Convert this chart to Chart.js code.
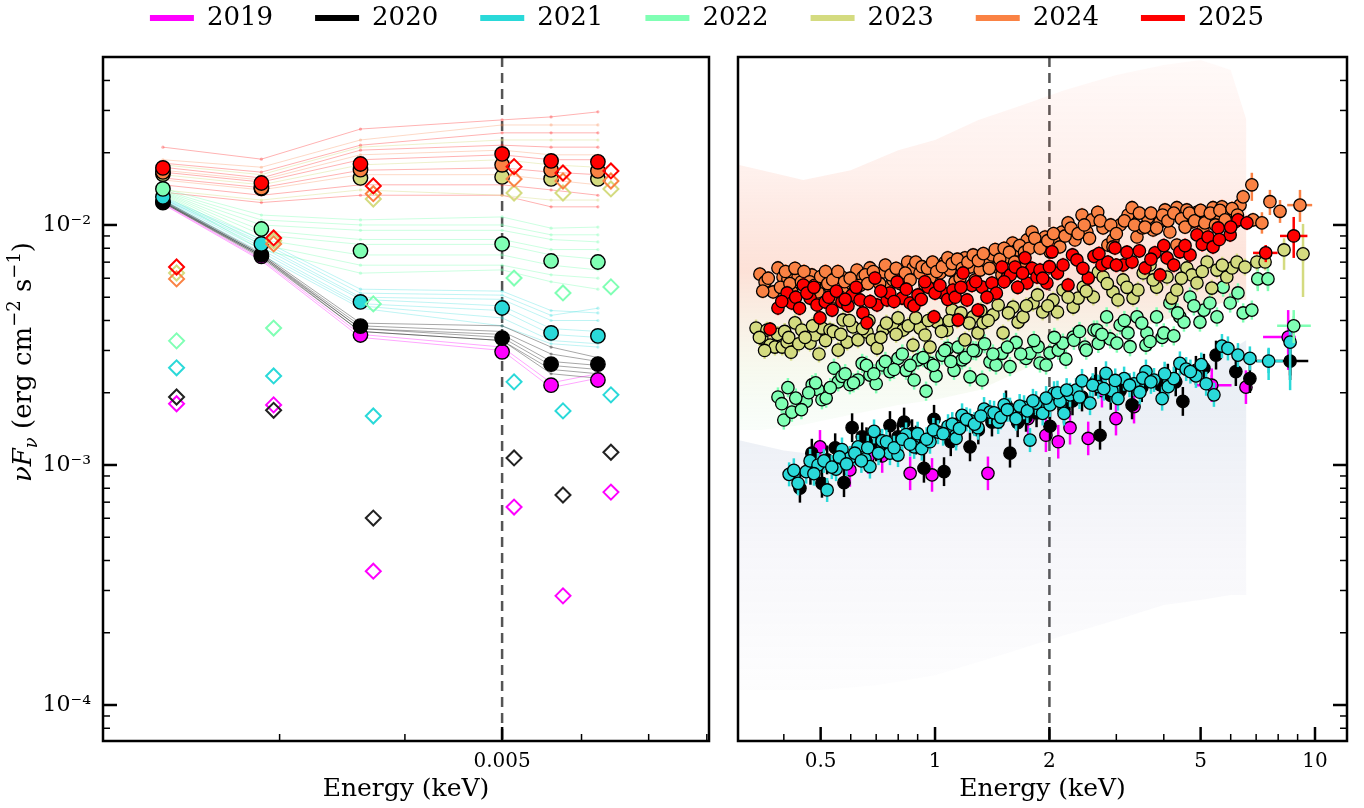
<!DOCTYPE html>
<html><head><meta charset="utf-8">
<script src="https://cdn.jsdelivr.net/npm/chart.js@4.4.1/dist/chart.umd.min.js"></script>
<style>
html,body{margin:0;padding:0;background:#fff;width:1364px;height:808px;overflow:hidden;}
canvas{position:absolute;}
#leftCanvas{left:0;top:0;z-index:1;}
#rightCanvas{left:722px;top:0;z-index:1;}
#legendCanvas{left:48px;top:-37px;z-index:2;}
</style></head><body>
<canvas id="leftCanvas" width="722" height="808"></canvas>
<canvas id="rightCanvas" width="642" height="808"></canvas>
<canvas id="legendCanvas" width="1318" height="260"></canvas>
<script>
// ---------------- DATA ----------------
const YEARS = ['2019','2020','2021','2022','2023','2024','2025'];
const COLORS = ['#ff00ff','#000000','#2ad9d9','#80ffb4','#d4db80','#fa8244','#ff0000'];
const FAINT_COLORS = ['rgba(255,0,255,0.35)','rgba(0,0,0,0.35)','rgba(42,217,217,0.3)','rgba(128,255,180,0.4)','rgba(212,219,128,0.4)','rgba(250,130,68,0.3)','rgba(255,0,0,0.3)'];

// left panel: UVOT bands (keV)
const BAND_E = [0.002295, 0.002877, 0.003612, 0.00500, 0.005595, 0.00623];
const DIAM_E = [0.002368, 0.002959, 0.00372, 0.005139, 0.00575, 0.006419];

const CIRC_2019 = [0.0124, 0.0074, 0.00348, 0.00296, 0.00215, 0.00226];
const CIRC_2020 = [0.01247, 0.0075, 0.00379, 0.00338, 0.00263, 0.00263];
const CIRC_2021 = [0.01309, 0.00834, 0.00478, 0.00451, 0.00355, 0.00345];
const CIRC_2022 = [0.01413, 0.00962, 0.0078, 0.00834, 0.00708, 0.00701];
const CIRC_2023 = [0.0163, 0.0142, 0.0157, 0.01585, 0.01555, 0.01555];
const CIRC_2024 = [0.01663, 0.0143, 0.0170, 0.0178, 0.01695, 0.0168];
const CIRC_2025 = [0.01728, 0.01496, 0.01795, 0.01977, 0.01848, 0.01832];

const DIAM_2019 = [0.0018, 0.00178, 0.000361, 0.000668, 0.000285, 0.000771];
const DIAM_2020 = [0.00192, 0.00169, 0.000601, 0.00107, 0.00075, 0.00113];
const DIAM_2021 = [0.00254, 0.00235, 0.0016, 0.00222, 0.00168, 0.00196];
const DIAM_2022 = [0.00329, 0.00372, 0.00469, 0.00601, 0.00521, 0.00552];
const DIAM_2023 = [0.00631, 0.0086, 0.01283, 0.01359, 0.01359, 0.01413];
const DIAM_2024 = [0.00596, 0.00834, 0.0135, 0.01555, 0.01525, 0.01525];
const DIAM_2025 = [0.00668, 0.00883, 0.01454, 0.0175, 0.01647, 0.01679];

// individual observations (faint lines)
const FAINT_2019 = [
  [0.0123,0.0072,0.0035,0.0031,0.0022,0.0024],
  [0.0122,0.0071,0.0034,0.0030,0.0021,0.0023]];
const FAINT_2020 = [
  [0.0127,0.0076,0.0039,0.0038,0.0031,0.0028],
  [0.0126,0.0075,0.0038,0.0036,0.0029,0.0027],
  [0.0125,0.0075,0.0037,0.0035,0.0027,0.0026],
  [0.0125,0.0074,0.0037,0.0034,0.0026,0.0025],
  [0.0124,0.0074,0.0036,0.0033,0.0025,0.0024],
  [0.0124,0.0073,0.0036,0.0033,0.0024,0.0023]];
const FAINT_2021 = [
  [0.0131,0.0087,0.0054,0.0053,0.0044,0.0043],
  [0.0130,0.0085,0.0052,0.0051,0.0042,0.0045],
  [0.0129,0.0083,0.0050,0.0049,0.0040,0.0040],
  [0.0129,0.0081,0.0049,0.0046,0.0037,0.0036],
  [0.0128,0.0079,0.0047,0.0044,0.0035,0.0034],
  [0.0127,0.0077,0.0046,0.0041,0.0033,0.0032],
  [0.0126,0.0075,0.0045,0.0038,0.0032,0.0031]];
const FAINT_2022 = [
  [0.0142,0.0110,0.0105,0.0108,0.0097,0.0098],
  [0.0140,0.0105,0.0100,0.0100,0.0091,0.0091],
  [0.0139,0.0100,0.0095,0.0095,0.0087,0.0085],
  [0.0138,0.0095,0.0087,0.0087,0.0079,0.0079],
  [0.0137,0.0091,0.0083,0.0083,0.0075,0.0072],
  [0.0136,0.0087,0.0075,0.0075,0.0068,0.0065],
  [0.0135,0.0083,0.0068,0.0068,0.0062,0.0060],
  [0.0134,0.0079,0.0063,0.0065,0.0058,0.0054]];
const FAINT_2023 = [
  [0.0178,0.0162,0.0211,0.0226,0.0226,0.0226],
  [0.0162,0.0147,0.0178,0.0187,0.0178,0.0174],
  [0.0140,0.0127,0.0140,0.0133,0.0127,0.0127]];
const FAINT_2024 = [
  [0.0187,0.0174,0.0226,0.0261,0.0261,0.0261],
  [0.0169,0.0154,0.0196,0.0205,0.0196,0.0196],
  [0.0154,0.0140,0.0162,0.0162,0.0154,0.0147]];
const FAINT_2025 = [
  [0.0211,0.0188,0.0251,0.0274,0.0282,0.0296],
  [0.0181,0.0166,0.0215,0.0242,0.0242,0.0242],
  [0.0174,0.0157,0.0205,0.0215,0.0211,0.0211],
  [0.0166,0.0151,0.0187,0.0196,0.0187,0.0187],
  [0.0157,0.0143,0.0169,0.0173,0.0166,0.0162],
  [0.0147,0.0133,0.0147,0.0147,0.0140,0.0133],
  [0.0137,0.0124,0.0133,0.0133,0.0119,0.0119]];

// right panel: X-ray spectra [E keV, nuFnu]
const XR_2019 = [[0.498,0.00119],[0.597,0.000954],[0.667,0.00108],[0.726,0.00109],[0.860,0.000923],[0.982,0.000909],[1.378,0.000923],[1.757,0.00156],[1.958,0.00133],[2.11,0.00125],[2.266,0.00143],[2.53,0.00129],[2.75,0.00204],[2.994,0.00156],[3.34,0.00175],[5.35,0.00215],[6.58,0.00211],[8.5,0.00341]];
const XR_2020 = [[0.441,0.000800],[0.474,0.00112],[0.504,0.000839],[0.546,0.00118],[0.576,0.000844],[0.605,0.00143],[0.643,0.00131],[0.700,0.00119],[0.761,0.00146],[0.799,0.00131],[0.829,0.00151],[0.891,0.00127],[0.935,0.000969],[0.994,0.00155],[1.056,0.000938],[1.136,0.00137],[1.236,0.00119],[1.412,0.00151],[1.537,0.00178],[1.575,0.00112],[1.736,0.00158],[2.007,0.00145],[2.185,0.00171],[2.437,0.00192],[2.65,0.00223],[2.718,0.00133],[3.07,0.00204],[3.30,0.00178],[3.91,0.00216],[4.30,0.00222],[4.49,0.00184],[4.86,0.00248],[5.10,0.00253],[5.49,0.00287],[6.19,0.00245],[6.74,0.00229],[8.6,0.00271],[0.47,0.00095],[0.52,0.00105],[0.66,0.00125],[0.72,0.00118],[0.87,0.00135],[1.1,0.00125],[1.3,0.00140],[1.65,0.00150],[1.85,0.00165],[2.3,0.00185],[2.9,0.00195],[3.5,0.0021],[4.1,0.0023]];
const XR_2021 = [[0.413,0.000914],[0.436,0.000839],[0.458,0.000938],[0.469,0.00104],[0.492,0.00100],[0.520,0.000787],[0.549,0.000961],[0.569,0.00116],[0.597,0.00107],[0.627,0.00119],[0.654,0.00106],[0.674,0.000985],[0.691,0.00138],[0.726,0.00126],[0.761,0.00112],[0.799,0.00110],[0.839,0.00134],[0.881,0.00119],[0.923,0.00117],[0.970,0.00125],[1.018,0.00137],[1.082,0.00145],[1.136,0.00129],[1.178,0.00161],[1.236,0.00153],[1.297,0.00143],[1.346,0.00171],[1.395,0.00166],[1.466,0.00151],[1.52,0.00178],[1.575,0.00170],[1.634,0.00156],[1.715,0.00174],[1.778,0.00127],[1.845,0.00181],[1.92,0.00164],[2.007,0.00178],[2.057,0.00199],[2.133,0.00184],[2.185,0.00164],[2.266,0.00196],[2.35,0.00205],[2.437,0.00224],[2.558,0.00181],[2.69,0.00212],[2.818,0.00241],[2.92,0.00204],[3.03,0.00189],[3.145,0.00229],[3.34,0.00218],[3.46,0.00201],[3.59,0.00245],[3.77,0.00226],[3.96,0.00189],[4.11,0.00212],[4.25,0.00229],[4.41,0.00265],[4.58,0.00251],[4.86,0.00235],[5.17,0.00218],[5.42,0.00196],[5.69,0.00313],[5.90,0.00306],[6.27,0.00287],[6.74,0.00278],[7.55,0.00271],[8.6,0.00325],
  [0.425,0.00095],[0.48,0.00092],[0.51,0.00104],[0.535,0.00098],[0.56,0.00108],[0.585,0.00101],[0.615,0.00112],[0.64,0.00104],[0.665,0.00118],[0.71,0.00112],[0.745,0.00125],[0.78,0.00118],[0.82,0.00128],[0.86,0.00122],[0.90,0.00135],[0.95,0.00128],[0.99,0.00140],[1.05,0.00135],[1.11,0.00148],[1.16,0.00142],[1.21,0.00155],[1.27,0.00148],[1.32,0.00160],[1.43,0.00165],[1.49,0.00158],[1.55,0.00170],[1.67,0.00176],[1.75,0.00168],[1.81,0.00185],[1.96,0.00190],[2.1,0.00200],[2.22,0.00205],[2.4,0.00192],[2.6,0.00215],[2.78,0.00208],[2.98,0.00225],[3.25,0.00215],[3.52,0.00230],[3.7,0.00222],[4.02,0.00240],[4.7,0.00245],[5.02,0.00262]];
const XR_2022 = [[0.386,0.00192],[0.400,0.00154],[0.420,0.00166],[0.458,0.00184],[0.475,0.00216],[0.492,0.00206],[0.504,0.00187],[0.517,0.00190],[0.542,0.00253],[0.556,0.00222],[0.569,0.00234],[0.597,0.00216],[0.627,0.00226],[0.643,0.00265],[0.674,0.00237],[0.700,0.00218],[0.726,0.00261],[0.761,0.00245],[0.799,0.00278],[0.839,0.00248],[0.881,0.00226],[0.902,0.00274],[0.947,0.00203],[0.970,0.00265],[1.006,0.00235],[1.043,0.00287],[1.08,0.00306],[1.122,0.00248],[1.178,0.00274],[1.236,0.00233],[1.282,0.00299],[1.330,0.00226],[1.395,0.00269],[1.447,0.00261],[1.50,0.00292],[1.575,0.00257],[1.634,0.00324],[1.736,0.00278],[1.778,0.00292],[1.867,0.00311],[1.889,0.00266],[1.96,0.00261],[2.007,0.00293],[2.11,0.00301],[2.17,0.00322],[2.21,0.00276],[2.31,0.00341],[2.32,0.00331],[2.48,0.00310],[2.50,0.00301],[2.62,0.00365],[2.67,0.00365],[2.69,0.00321],[2.83,0.00414],[2.89,0.00335],[3.01,0.00322],[3.07,0.00383],[3.22,0.00355],[3.26,0.00311],[3.40,0.00414],[3.59,0.00316],[3.61,0.00355],[3.68,0.00327],[3.83,0.00414],[3.96,0.00340],[4.0,0.00355],[4.15,0.00473],[4.25,0.00345],[4.41,0.00414],[4.52,0.00394],[4.69,0.00501],[4.98,0.00394],[5.10,0.00442],[5.29,0.00473],[5.52,0.00414],[5.73,0.00551],[5.98,0.00473],[6.27,0.00521],[6.47,0.00430],[6.82,0.00442],[7.07,0.00596],[7.52,0.00596],[8.79,0.00380],
  [0.395,0.0018],[0.41,0.0021],[0.43,0.0019],[0.445,0.0017],[0.465,0.0020],[0.485,0.0022],[0.53,0.0021],[0.58,0.0024],[0.61,0.0022],[0.66,0.0026],[0.69,0.0024],[0.74,0.0027],[0.78,0.0025],[0.82,0.0029],[0.86,0.0026],[0.93,0.0028],[0.99,0.0026],[1.06,0.0030],[1.1,0.0027],[1.15,0.0031],[1.2,0.0028],[1.26,0.0030],[1.35,0.0032],[1.42,0.0029],[1.55,0.0031],[1.68,0.0029],[1.82,0.0033],[2.06,0.0034],[2.4,0.0036],[2.75,0.0035],[3.15,0.0040],[3.5,0.0039],[4.35,0.0043],[4.8,0.0046]];
const XR_2023 = [[0.338,0.00372],[0.350,0.00338],[0.361,0.00365],[0.368,0.00316],[0.379,0.00310],[0.396,0.00310],[0.408,0.00325],[0.418,0.00295],[0.428,0.00391],[0.446,0.00365],[0.469,0.00322],[0.483,0.00348],[0.495,0.00290],[0.504,0.00372],[0.529,0.00365],[0.556,0.00301],[0.573,0.00402],[0.587,0.00325],[0.608,0.00376],[0.627,0.00332],[0.662,0.00358],[0.684,0.00332],[0.704,0.00307],[0.730,0.00365],[0.775,0.00376],[0.799,0.00410],[0.824,0.00365],[0.875,0.00316],[0.913,0.00372],[0.941,0.00348],[0.970,0.00310],[1.012,0.00394],[1.075,0.00365],[1.109,0.00442],[1.143,0.00402],[1.199,0.00332],[1.259,0.00414],[1.297,0.00355],[1.338,0.00391],[1.421,0.00422],[1.466,0.00464],[1.510,0.00355],[1.605,0.00455],[1.654,0.00394],[1.704,0.00414],[1.811,0.00473],[1.861,0.00511],[1.92,0.00434],[2.045,0.00487],[2.10,0.00434],[2.172,0.00536],[2.31,0.00455],[2.38,0.00496],[2.455,0.00551],[2.61,0.00501],[2.69,0.00637],[2.77,0.00607],[2.94,0.00526],[3.03,0.00487],[3.125,0.00590],[3.32,0.00496],[3.42,0.00536],[3.53,0.00631],[3.68,0.00681],[3.83,0.00551],[4.08,0.00607],[4.20,0.00496],[4.33,0.00536],[4.60,0.00662],[4.74,0.00619],[4.89,0.00573],[5.20,0.00701],[5.35,0.00546],[5.52,0.00649],[5.86,0.00607],[6.05,0.00662],[6.23,0.00701],[6.54,0.00668],[7.03,0.00701],[7.39,0.00701],[8.29,0.00787],[9.30,0.00758],
  [0.345,0.0034],[0.356,0.0030],[0.385,0.0035],[0.402,0.0036],[0.412,0.0034],[0.438,0.0032],[0.455,0.0034],[0.476,0.0038],[0.515,0.0033],[0.54,0.0036],[0.565,0.0035],[0.595,0.0040],[0.645,0.0037],[0.67,0.0040],[0.72,0.0034],[0.745,0.0039],[0.79,0.0035],[0.85,0.0038],[0.89,0.0041],[0.96,0.0040],[1.04,0.0036],[1.09,0.0040],[1.17,0.0043],[1.23,0.0039],[1.32,0.0044],[1.38,0.0040],[1.56,0.0043],[1.74,0.0046],[1.98,0.0046],[2.24,0.0050],[2.5,0.0053],[2.84,0.0057],[3.2,0.0055],[3.75,0.0059],[4.45,0.0060],[5.05,0.0064],[5.7,0.0068]];
const XR_2024 = [[0.346,0.00624],[0.357,0.00579],[0.375,0.00526],[0.386,0.00662],[0.398,0.00607],[0.410,0.00596],[0.420,0.00526],[0.436,0.00607],[0.460,0.00551],[0.474,0.00619],[0.492,0.00526],[0.507,0.00579],[0.529,0.00551],[0.546,0.00501],[0.569,0.00607],[0.587,0.00551],[0.608,0.00562],[0.623,0.00649],[0.646,0.00607],[0.674,0.00662],[0.704,0.00601],[0.730,0.00637],[0.752,0.00551],[0.775,0.00590],[0.824,0.00607],[0.847,0.00701],[0.875,0.00662],[0.913,0.00631],[0.941,0.00562],[0.970,0.00601],[1.031,0.00631],[1.063,0.00701],[1.095,0.00649],[1.129,0.00579],[1.164,0.00601],[1.199,0.00729],[1.236,0.00668],[1.274,0.00590],[1.314,0.00649],[1.37,0.00701],[1.413,0.00750],[1.456,0.00668],[1.50,0.00619],[1.546,0.00736],[1.60,0.00841],[1.644,0.00787],[1.694,0.00701],[1.746,0.00866],[1.80,0.00935],[1.855,0.00841],[1.948,0.00891],[2.007,0.00773],[2.095,0.00850],[2.16,0.00935],[2.239,0.0102],[2.335,0.00866],[2.437,0.0110],[2.51,0.00935],[2.589,0.0105],[2.68,0.0113],[2.768,0.00972],[2.85,0.00825],[2.94,0.00866],[2.94,0.00810],[3.07,0.0100],[3.22,0.0110],[3.30,0.0118],[3.40,0.00891],[3.51,0.00972],[3.63,0.0107],[3.75,0.00953],[3.91,0.0103],[4.03,0.01155],[4.15,0.00935],[4.33,0.0118],[4.33,0.00825],[4.60,0.01155],[4.74,0.0103],[4.89,0.0113],[5.07,0.00953],[5.20,0.0108],[5.39,0.0118],[5.56,0.0107],[5.69,0.0119],[5.98,0.0112],[6.16,0.0103],[6.35,0.0121],[6.47,0.0131],[6.82,0.0147],[6.87,0.0105],[7.25,0.0102],[7.61,0.0125],[8.09,0.0114],[9.13,0.0121],
  [0.352,0.0053],[0.364,0.0060],[0.392,0.0055],[0.404,0.0064],[0.415,0.0057],[0.428,0.0066],[0.445,0.0058],[0.452,0.0064],[0.468,0.0058],[0.482,0.0056],[0.500,0.0061],[0.515,0.0064],[0.522,0.0057],[0.538,0.0059],[0.555,0.0064],[0.578,0.0058],[0.598,0.0060],[0.615,0.0053],[0.635,0.0056],[0.655,0.0062],[0.665,0.0057],[0.688,0.0064],[0.715,0.0057],[0.74,0.0068],[0.765,0.0062],[0.79,0.0066],[0.81,0.0057],[0.835,0.0063],[0.86,0.0059],[0.89,0.0070],[0.925,0.0067],[0.955,0.0066],[0.985,0.0070],[1.01,0.0064],[1.045,0.0067],[1.08,0.0073],[1.11,0.0069],[1.145,0.0072],[1.18,0.0066],[1.22,0.0070],[1.26,0.0075],[1.30,0.0071],[1.34,0.0076],[1.39,0.0066],[1.44,0.0079],[1.48,0.0072],[1.52,0.0080],[1.57,0.0077],[1.62,0.0070],[1.67,0.0082],[1.72,0.0077],[1.77,0.0080],[1.83,0.0088],[1.89,0.0080],[1.98,0.0086],[2.05,0.0092],[2.13,0.0081],[2.2,0.0090],[2.28,0.0097],[2.38,0.0092],[2.47,0.0100],[2.55,0.0088],[2.72,0.0104],[2.9,0.0100],[3.0,0.0092],[3.15,0.0104],[3.35,0.0100],[3.45,0.0112],[3.57,0.0098],[3.7,0.0112],[3.83,0.0097],[3.97,0.0110],[4.1,0.0104],[4.25,0.0112],[4.45,0.0106],[4.55,0.0098],[4.67,0.0112],[4.82,0.0104],[5.0,0.0115],[5.13,0.0102],[5.3,0.0112],[5.47,0.0100],[5.62,0.0115],[5.8,0.0105],[6.05,0.0117],[6.25,0.0110]];
const XR_2025 = [[0.368,0.00368],[0.386,0.00451],[0.408,0.00521],[0.420,0.00473],[0.43,0.0050],[0.450,0.00562],[0.469,0.00496],[0.489,0.00464],[0.498,0.00410],[0.514,0.00478],[0.536,0.00442],[0.569,0.00478],[0.59,0.0046],[0.605,0.00511],[0.635,0.00487],[0.646,0.00430],[0.662,0.00391],[0.695,0.00601],[0.704,0.00464],[0.748,0.00487],[0.76,0.0052],[0.795,0.00579],[0.819,0.00496],[0.860,0.00473],[0.88,0.0046],[0.902,0.00511],[0.958,0.00551],[0.994,0.00414],[1.050,0.00521],[1.08,0.0049],[1.115,0.00536],[1.150,0.00402],[1.185,0.00631],[1.214,0.00487],[1.25,0.0056],[1.297,0.00442],[1.330,0.00551],[1.412,0.00573],[1.45,0.0052],[1.50,0.00668],[1.546,0.00601],[1.58,0.0062],[1.624,0.00668],[1.725,0.00729],[1.746,0.00573],[1.80,0.0066],[1.855,0.00607],[1.889,0.00649],[1.97,0.00573],[2.032,0.00773],[2.10,0.0063],[2.172,0.00681],[2.239,0.00562],[2.30,0.0075],[2.363,0.00715],[2.53,0.00601],[2.62,0.0074],[2.75,0.00681],[2.85,0.0070],[2.976,0.00802],[3.125,0.00681],[3.30,0.00701],[3.45,0.0078],[3.57,0.00662],[3.79,0.00765],[3.91,0.00619],[4.08,0.00729],[4.25,0.0068],[4.41,0.00773],[4.69,0.00750],[4.89,0.00909],[5.05,0.0083],[5.23,0.00891],[5.39,0.00810],[5.56,0.00972],[5.98,0.00909],[6.27,0.0105],[6.62,0.0102],[7.42,0.00765],[8.79,0.00900],
  [0.395,0.0048],[0.44,0.0045],[0.46,0.0052],[0.48,0.0055],[0.525,0.0050],[0.55,0.0053],[0.58,0.0049],[0.62,0.0055],[0.675,0.0048],[0.72,0.0053],[0.78,0.0048],[0.84,0.0054],[0.92,0.0049],[0.94,0.0058],[1.0,0.0052],[1.03,0.0056],[1.13,0.0050],[1.17,0.0055],[1.28,0.0058],[1.37,0.0050],[1.52,0.0058],[1.65,0.0055],[1.70,0.0063],[1.92,0.0060],[2.0,0.0067],[2.45,0.0066],[2.7,0.0076],[3.0,0.0068],[3.2,0.0077],[3.7,0.0072],[4.0,0.0082],[4.55,0.0082],[5.6,0.0087],[6.0,0.0098]];

// typical errors (dex) and the large, individually visible error bars [E, yLo, yHi, eLo, eHi]
const ERR_DEX = [0.07, 0.06, 0.05, 0.04, 0.035, 0.03, 0.03];
const ERRBIG_2019 = [[8.5,0.00249,0.00442,7.3,8.9],[5.35,0.00191,0.00237,4.86,6.03]];
const ERRBIG_2020 = [[8.6,0.00226,0.00332,6.99,9.60]];
const ERRBIG_2021 = [[8.6,0.00205,0.00376,null,null],[7.55,0.00226,0.00308,7.03,8.23]];
const ERRBIG_2022 = [[8.79,0.00322,0.00442,7.95,9.75],[7.52,0.0053,0.0067,null,null],[7.07,0.0053,0.0067,null,null]];
const ERRBIG_2023 = [[9.30,0.00501,0.0101,null,null],[8.29,0.0065,0.0088,null,null]];
const ERRBIG_2024 = [[6.82,0.0126,0.0165,null,null],[7.61,0.0110,0.0140,null,null],[9.13,0.0103,0.0140,8.45,9.83],[6.35,0.0110,0.0133,null,null],[7.25,0.0092,0.0113,null,null],[8.09,0.0102,0.0127,null,null]];
const ERRBIG_2025 = [[8.79,0.00729,0.0108,8.09,9.55],[7.42,0.0070,0.00825,6.87,7.97]];

// faint envelopes of the individual spectra (background)
const ENV_HI_E   = [0.303, 0.35, 0.45, 0.6, 0.8, 1.0, 1.3, 1.7, 2.2, 3.0, 4.0, 5.0, 6.0, 6.6];
const ENV_HI_TOP = [0.0178,0.0169,0.0154,0.0169,0.0205,0.0226,0.0274,0.0316,0.0365,0.0422,0.0464,0.0487,0.0442,0.0274];
const ENV_HI_BOT = [0.0014,0.0014,0.00147,0.00162,0.00178,0.00187,0.00205,0.00249,0.00301,0.00348,0.00402,0.00442,0.00487,0.00487];
const ENV_LO_E   = [0.303, 0.4, 0.5, 0.7, 1.0, 1.5, 2.0, 3.0, 4.0, 5.0, 6.0, 6.6];
const ENV_LO_TOP = [0.00127,0.00115,0.00110,0.00115,0.00127,0.00154,0.00178,0.00205,0.00237,0.00261,0.00301,0.00332];
const ENV_LO_BOT = [0.0001155,0.0001155,0.0001155,0.000121,0.000133,0.000162,0.000187,0.000226,0.000261,0.000274,0.000287,0.000287];

// axes
const X_LEFT_RANGE = [0.002, 0.00804];
const X_RIGHT_RANGE = [0.303, 12.14];
const Y_RANGE = [7.08e-5, 0.0501];
const LEFT_X_MAJOR = [0.005];
const LEFT_X_MINOR = [0.003, 0.004, 0.006, 0.007, 0.008];
const LEFT_X_LABELS = [[0.005, '0.005']];
const RIGHT_X_MAJOR = [0.5, 1, 2, 5, 10];
const RIGHT_X_MINOR = [0.4, 0.6, 0.7, 0.8, 0.9, 3, 4, 6, 7, 8, 9];
const RIGHT_X_LABELS = [[0.5,'0.5'],[1,'1'],[2,'2'],[5,'5'],[10,'10']];
const Y_MAJOR = [1e-4, 1e-3, 1e-2];
const Y_MINOR = [8e-5, 9e-5, 2e-4, 3e-4, 4e-4, 5e-4, 6e-4, 7e-4, 8e-4, 9e-4, 2e-3, 3e-3, 4e-3, 5e-3, 6e-3, 7e-3, 8e-3, 9e-3, 2e-2, 3e-2, 4e-2];
const Y_LABELS = [[1e-4,'10⁻⁴'],[1e-3,'10⁻³'],[1e-2,'10⁻²']];
const Y_TITLE_PARTS = [['ν','i'],['F','i'],['ν','sub'],[' (erg cm','n'],['−2','sup'],[' s','n'],['−1','sup'],[')','n']];
const X_TITLE = 'Energy (keV)';
const DASH_LEFT = 0.005;
const DASH_RIGHT = 2;

// ---------------- RENDERING ----------------
const FONT = 'DejaVu Serif';
Chart.defaults.font.family = FONT;
Chart.defaults.color = '#000';

function findLabel(list, v) {
  const hit = list.find(t => Math.abs(Math.log10(t[0]) - Math.log10(v)) < 1e-6);
  return hit ? hit[1] : '';
}

const framePlugin = {
  id: 'frame',
  afterDraw(chart, args, o) {
    const {ctx, chartArea: a} = chart;
    const xs = chart.scales.x, ys = chart.scales.y;
    ctx.save();
    ctx.strokeStyle = '#000';
    const drawX = (vals, len, w) => {
      ctx.lineWidth = w;
      vals.forEach(v => { const px = xs.getPixelForValue(v);
        if (px < a.left - 0.5 || px > a.right + 0.5) return;
        ctx.beginPath(); ctx.moveTo(px, a.bottom); ctx.lineTo(px, a.bottom - len); ctx.stroke(); });
    };
    const drawY = (vals, len, w) => {
      ctx.lineWidth = w;
      vals.forEach(v => { const py = ys.getPixelForValue(v);
        if (py < a.top - 0.5 || py > a.bottom + 0.5) return;
        ctx.beginPath();
        if (o.ySide === 'left') { ctx.moveTo(a.left, py); ctx.lineTo(a.left + len, py); }
        else { ctx.moveTo(a.right, py); ctx.lineTo(a.right - len, py); }
        ctx.stroke(); });
    };
    drawX(o.xMinor, 7, 1.5); drawX(o.xMajor, 14, 2.5);
    drawY(Y_MINOR, 7, 1.5); drawY(Y_MAJOR, 14, 2.5);
    ctx.lineWidth = 2.5;
    ctx.strokeRect(a.left, a.top, a.right - a.left, a.bottom - a.top);
    ctx.restore();
  }
};

const yTitlePlugin = {
  id: 'ytitle',
  afterDraw(chart, args, o) {
    const ctx = chart.ctx;
    const big = o.size, small = Math.round(o.size * 0.68);
    const fontOf = s => ((s === 'i' || s === 'sub') ? 'italic ' : '') + ((s === 'sub' || s === 'sup') ? small : big) + 'px "' + FONT + '"';
    ctx.save();
    let total = 0;
    const widths = Y_TITLE_PARTS.map(p => { ctx.font = fontOf(p[1]); const w = ctx.measureText(p[0]).width; total += w; return w; });
    ctx.translate(o.x, o.y);
    ctx.rotate(-Math.PI / 2);
    ctx.fillStyle = '#000';
    ctx.textBaseline = 'alphabetic';
    ctx.textAlign = 'left';
    let cx = -total / 2;
    const base = big * 0.36;
    Y_TITLE_PARTS.forEach((p, i) => {
      ctx.font = fontOf(p[1]);
      const dy = p[1] === 'sup' ? -big * 0.42 : (p[1] === 'sub' ? big * 0.22 : 0);
      ctx.fillText(p[0], cx, base + dy);
      cx += widths[i];
    });
    ctx.restore();
  }
};

const dashPlugin = {
  id: 'dashline',
  beforeDatasetsDraw(chart, args, o) {
    const {ctx, chartArea: a} = chart;
    const px = chart.scales.x.getPixelForValue(o.value);
    ctx.save();
    ctx.strokeStyle = '#555'; ctx.lineWidth = 2.5; ctx.setLineDash([10, 6]);
    ctx.beginPath(); ctx.moveTo(px, a.top); ctx.lineTo(px, a.bottom); ctx.stroke();
    ctx.restore();
  }
};

const errPlugin = {
  id: 'errbars',
  beforeDatasetDraw(chart, args) {
    const ds = chart.data.datasets[args.index];
    if (ds.errDex === undefined) return;
    const {ctx, chartArea: a} = chart;
    const xs = chart.scales.x, ys = chart.scales.y;
    ctx.save();
    ctx.beginPath(); ctx.rect(a.left, a.top, a.right - a.left, a.bottom - a.top); ctx.clip();
    ctx.strokeStyle = ds.errColor; ctx.lineWidth = 2.5;
    const f = Math.pow(10, ds.errDex);
    ds.data.forEach(p => {
      const px = xs.getPixelForValue(p.x);
      ctx.beginPath();
      ctx.moveTo(px, ys.getPixelForValue(p.y / f));
      ctx.lineTo(px, ys.getPixelForValue(p.y * f));
      ctx.stroke();
    });
    ds.errBig.forEach(b => {
      const px = xs.getPixelForValue(b[0]);
      ctx.beginPath();
      ctx.moveTo(px, ys.getPixelForValue(b[1])); ctx.lineTo(px, ys.getPixelForValue(b[2]));
      ctx.stroke();
      if (b[3] !== null) {
        const yv = ds.data.find(p => p.x === b[0]);
        const py = ys.getPixelForValue(yv ? yv.y : Math.sqrt(b[1] * b[2]));
        ctx.beginPath();
        ctx.moveTo(xs.getPixelForValue(b[3]), py); ctx.lineTo(xs.getPixelForValue(b[4]), py);
        ctx.stroke();
      }
    });
    ctx.restore();
  }
};

function makeXScale(range, minor, major, labels) {
  return {
    type: 'logarithmic', min: range[0], max: range[1], bounds: 'data',
    afterBuildTicks: s => { s.ticks = minor.concat(major).sort((p, q) => p - q).map(v => ({value: v})); },
    afterFit: s => { s.height = 67; },
    grid: {display: false, drawTicks: false}, border: {display: false},
    ticks: {autoSkip: false, maxRotation: 0, minRotation: 0, padding: 9, color: '#000',
      font: {family: FONT, size: 20}, callback: v => findLabel(labels, v)},
    title: {display: true, text: X_TITLE, color: '#000', font: {family: FONT, size: 25}, padding: {top: 0, bottom: 4}}
  };
}

// ---------- left chart ----------
const CIRCS = [CIRC_2019, CIRC_2020, CIRC_2021, CIRC_2022, CIRC_2023, CIRC_2024, CIRC_2025];
const DIAMS = [DIAM_2019, DIAM_2020, DIAM_2021, DIAM_2022, DIAM_2023, DIAM_2024, DIAM_2025];
const FAINTS = [FAINT_2019, FAINT_2020, FAINT_2021, FAINT_2022, FAINT_2023, FAINT_2024, FAINT_2025];

const leftSets = [];
FAINTS.forEach((grp, gi) => grp.forEach(vals => leftSets.push({
  data: vals.map((v, i) => ({x: BAND_E[i], y: v})), showLine: true,
  borderColor: FAINT_COLORS[gi], backgroundColor: FAINT_COLORS[gi], borderWidth: 1,
  pointRadius: 1.6, pointBorderWidth: 0, order: 50
})));
CIRCS.forEach((vals, gi) => leftSets.push({
  data: vals.map((v, i) => ({x: BAND_E[i], y: v})), showLine: false,
  pointRadius: 7.2, pointBackgroundColor: COLORS[gi], pointBorderColor: '#000', pointBorderWidth: 1.4,
  order: 30 - gi
}));
DIAMS.forEach((vals, gi) => leftSets.push({
  data: vals.map((v, i) => ({x: DIAM_E[i], y: v})), showLine: false, pointStyle: 'rectRot',
  pointRadius: 7.5, pointBackgroundColor: 'rgba(0,0,0,0)', pointBorderColor: gi === 1 ? '#222' : COLORS[gi], pointBorderWidth: 2,
  order: 15 - gi
}));

new Chart(document.getElementById('leftCanvas'), {
  type: 'scatter',
  data: {datasets: leftSets},
  options: {
    responsive: false, animation: false, devicePixelRatio: 1, events: [],
    layout: {padding: {left: 0, top: 57, right: 13, bottom: 0}},
    scales: {
      x: makeXScale(X_LEFT_RANGE, LEFT_X_MINOR, LEFT_X_MAJOR, LEFT_X_LABELS),
      y: {
        type: 'logarithmic', position: 'left', min: Y_RANGE[0], max: Y_RANGE[1], bounds: 'data',
        afterBuildTicks: s => { s.ticks = Y_MAJOR.map(v => ({value: v})); },
        afterFit: s => { s.width = 103; },
        grid: {display: false, drawTicks: false}, border: {display: false},
        ticks: {autoSkip: false, padding: 12, color: '#000', font: {family: FONT, size: 22}, callback: v => findLabel(Y_LABELS, v)},
        title: {display: false}
      }
    },
    plugins: {
      legend: {display: false}, tooltip: {enabled: false},
      frame: {xMajor: LEFT_X_MAJOR, xMinor: LEFT_X_MINOR, ySide: 'left'},
      dashline: {value: DASH_LEFT},
      ytitle: {x: 22, y: 362, size: 26}
    }
  },
  plugins: [framePlugin, dashPlugin, yTitlePlugin]
});

// ---------- right chart ----------
const XRS = [XR_2019, XR_2020, XR_2021, XR_2022, XR_2023, XR_2024, XR_2025];
const ERRBIGS = [ERRBIG_2019, ERRBIG_2020, ERRBIG_2021, ERRBIG_2022, ERRBIG_2023, ERRBIG_2024, ERRBIG_2025];

function hiGrad(context) {
  const {ctx, chartArea} = context.chart;
  if (!chartArea) return 'rgba(0,0,0,0)';
  const g = ctx.createLinearGradient(0, chartArea.top, 0, chartArea.top + 390);
  g.addColorStop(0, 'rgba(255,90,60,0.03)');
  g.addColorStop(0.3, 'rgba(250,110,70,0.10)');
  g.addColorStop(0.55, 'rgba(245,120,75,0.22)');
  g.addColorStop(0.8, 'rgba(200,215,140,0.14)');
  g.addColorStop(1, 'rgba(150,230,180,0.04)');
  return g;
}
function loGrad(context) {
  const {ctx, chartArea} = context.chart;
  if (!chartArea) return 'rgba(0,0,0,0)';
  const g = ctx.createLinearGradient(0, chartArea.top + 350, 0, chartArea.top + 640);
  g.addColorStop(0, 'rgba(120,150,190,0.15)');
  g.addColorStop(0.5, 'rgba(140,140,190,0.07)');
  g.addColorStop(1, 'rgba(160,160,200,0.02)');
  return g;
}

const rightSets = [
  {data: ENV_HI_E.map((e, i) => ({x: e, y: ENV_HI_TOP[i]})), showLine: true, borderWidth: 0, pointRadius: 0, fill: '+1', backgroundColor: hiGrad, order: 100},
  {data: ENV_HI_E.map((e, i) => ({x: e, y: ENV_HI_BOT[i]})), showLine: true, borderWidth: 0, pointRadius: 0, fill: false, order: 100},
  {data: ENV_LO_E.map((e, i) => ({x: e, y: ENV_LO_TOP[i]})), showLine: true, borderWidth: 0, pointRadius: 0, fill: '+1', backgroundColor: loGrad, order: 101},
  {data: ENV_LO_E.map((e, i) => ({x: e, y: ENV_LO_BOT[i]})), showLine: true, borderWidth: 0, pointRadius: 0, fill: false, order: 101}
];
XRS.forEach((pts, gi) => rightSets.push({
  data: pts.map(p => ({x: p[0], y: p[1]})), showLine: false,
  pointRadius: 6.2, pointBackgroundColor: COLORS[gi], pointBorderColor: '#000', pointBorderWidth: 1.3,
  errDex: ERR_DEX[gi], errBig: ERRBIGS[gi], errColor: COLORS[gi],
  order: 30 - gi
}));

new Chart(document.getElementById('rightCanvas'), {
  type: 'scatter',
  data: {datasets: rightSets},
  options: {
    responsive: false, animation: false, devicePixelRatio: 1, events: [],
    layout: {padding: {left: 16, top: 57, right: 17, bottom: 0}},
    scales: {
      x: makeXScale(X_RIGHT_RANGE, RIGHT_X_MINOR, RIGHT_X_MAJOR, RIGHT_X_LABELS),
      y: {type: 'logarithmic', position: 'right', display: false, min: Y_RANGE[0], max: Y_RANGE[1], bounds: 'data'}
    },
    plugins: {
      legend: {display: false}, tooltip: {enabled: false},
      frame: {xMajor: RIGHT_X_MAJOR, xMinor: RIGHT_X_MINOR, ySide: 'right'},
      dashline: {value: DASH_RIGHT}
    }
  },
  plugins: [framePlugin, dashPlugin, errPlugin]
});

// ---------- legend ----------
new Chart(document.getElementById('legendCanvas'), {
  type: 'line',
  data: {datasets: YEARS.map((y, i) => ({label: y, data: [], backgroundColor: COLORS[i], borderColor: COLORS[i], borderWidth: 0}))},
  options: {
    responsive: false, animation: false, devicePixelRatio: 1, events: [],
    layout: {padding: 0},
    scales: {x: {display: false}, y: {display: false}},
    plugins: {
      tooltip: {enabled: false},
      legend: {display: true, position: 'top', align: 'center',
        labels: {boxWidth: 44, boxHeight: 6, padding: 42, color: '#000', font: {family: FONT, size: 26}}}
    }
  }
});
</script>
</body></html>
